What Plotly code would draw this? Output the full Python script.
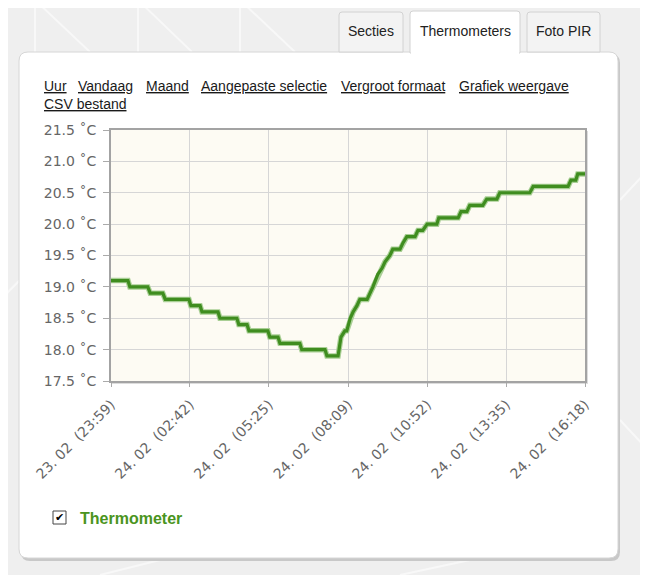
import plotly.graph_objects as go

# ---------------- data ----------------
clock = ["23:59", "00:34", "00:38", "01:15", "01:20", "01:46", "01:51", "02:40", "02:44", "03:03",
         "03:07", "03:40", "03:44", "04:19", "04:23", "04:40", "04:44", "05:23", "05:27", "05:44",
         "05:48", "06:29", "06:33", "07:21", "07:25", "07:48", "07:54", "08:02", "08:06", "08:13",
         "08:19", "08:27", "08:33", "08:48", "08:54", "09:00", "09:10", "09:19", "09:25", "09:35",
         "09:41", "09:56", "10:02", "10:10", "10:27", "10:33", "10:43", "10:52", "11:12", "11:16",
         "11:56", "12:02", "12:14", "12:20", "12:47", "12:55", "13:16", "13:22", "14:24", "14:31",
         "15:43", "15:49", "15:59", "16:03", "16:18"]
temps = [19.1, 19.1, 19.0, 19.0, 18.9, 18.9, 18.8, 18.8, 18.7, 18.7,
         18.6, 18.6, 18.5, 18.5, 18.4, 18.4, 18.3, 18.3, 18.2, 18.2,
         18.1, 18.1, 18.0, 18.0, 17.9, 17.9, 18.2, 18.3, 18.3, 18.5,
         18.6, 18.7, 18.8, 18.8, 18.9, 19.0, 19.2, 19.3, 19.4, 19.5,
         19.6, 19.6, 19.7, 19.8, 19.8, 19.9, 19.9, 20.0, 20.0, 20.1,
         20.1, 20.2, 20.2, 20.3, 20.3, 20.4, 20.4, 20.5, 20.5, 20.6,
         20.6, 20.7, 20.7, 20.8, 20.8]
times = ["2024-02-23 " + clock[0]] + ["2024-02-24 " + c for c in clock[1:]]

x_tick_vals = ["2024-02-23 23:59", "2024-02-24 02:42", "2024-02-24 05:25", "2024-02-24 08:09",
               "2024-02-24 10:52", "2024-02-24 13:35", "2024-02-24 16:18"]
x_tick_text = ["23. 02\u00a0\u00a0(23:59)", "24. 02\u00a0\u00a0(02:42)", "24. 02\u00a0\u00a0(05:25)",
               "24. 02\u00a0\u00a0(08:09)", "24. 02\u00a0\u00a0(10:52)", "24. 02\u00a0\u00a0(13:35)",
               "24. 02\u00a0\u00a0(16:18)"]
y_tick_vals = [17.5, 18.0, 18.5, 19.0, 19.5, 20.0, 20.5, 21.0, 21.5]
y_tick_text = ["17.5 ˚C", "18.0 ˚C", "18.5 ˚C", "19.0 ˚C", "19.5 ˚C", "20.0 ˚C", "20.5 ˚C", "21.0 ˚C", "21.5 ˚C"]

tabs = ["Secties", "Thermometers", "Foto PIR"]
links_row1 = ["Uur", "Vandaag", "Maand", "Aangepaste selectie", "Vergroot formaat", "Grafiek weergave"]
links_row2 = ["CSV bestand"]
series_name = "Thermometer"

# ---------------- layout helpers (screen pixel -> paper) ----------------
SW, SH = 648, 575          # browser window
BODY = 8                   # default page margin around the plot div
PL, PR, PT, PB = 111, 585, 130, 381   # plot area in screen pixels


def px(x):
    return (x - PL) / (PR - PL)


def py(y):
    return (PB - y) / (PB - PT)


def rrect(x0, y0, x1, y1, r, top_only=False):
    rb = 0 if top_only else r
    pts = []
    pts.append(f"M {px(x0 + r)},{py(y0)}")
    pts.append(f"L {px(x1 - r)},{py(y0)}")
    pts.append(f"Q {px(x1)},{py(y0)} {px(x1)},{py(y0 + r)}")
    pts.append(f"L {px(x1)},{py(y1 - rb)}")
    if rb:
        pts.append(f"Q {px(x1)},{py(y1)} {px(x1 - rb)},{py(y1)}")
    pts.append(f"L {px(x0 + rb)},{py(y1)}")
    if rb:
        pts.append(f"Q {px(x0)},{py(y1)} {px(x0)},{py(y1 - rb)}")
    pts.append(f"L {px(x0)},{py(y0 + r)}")
    pts.append(f"Q {px(x0)},{py(y0)} {px(x0 + r)},{py(y0)}")
    pts.append("Z")
    return " ".join(pts)


shapes = []
annotations = []

# faint background decoration (thin light lines)
deco = [(35, 0, 90, 52), (138, 0, 192, 52), (240, 0, 295, 52), (35, 0, 35, 52), (138, 0, 138, 52),
        (240, 0, 240, 52), (0, 300, 20, 280), (620, 200, 648, 170), (620, 420, 648, 450),
        (100, 575, 160, 560), (400, 575, 470, 560)]
for (xa, ya, xb, yb) in deco:
    shapes.append(dict(type="line", xref="paper", yref="paper", x0=px(xa), y0=py(ya), x1=px(xb), y1=py(yb),
                       line=dict(color="#f8f8f8", width=2), layer="below"))

# card shadow + card
shapes.append(dict(type="path", xref="paper", yref="paper", path=rrect(21, 54, 620, 561, 9),
                   fillcolor="#c8c8c8", line=dict(width=0), layer="below"))
shapes.append(dict(type="path", xref="paper", yref="paper", path=rrect(19, 52, 618, 558, 9),
                   fillcolor="#ffffff", line=dict(color="#d6d6d6", width=1), layer="below"))

# tabs
tab_boxes = [(339, 12, 403, 52), (410, 11, 520, 53), (527, 12, 600, 52)]
for i, (name, (x0, y0, x1, y1)) in enumerate(zip(tabs, tab_boxes)):
    active = (i == 1)
    shapes.append(dict(type="path", xref="paper", yref="paper", path=rrect(x0, y0, x1, y1, 3, top_only=True),
                       fillcolor="#ffffff" if active else "#f3f3f3",
                       line=dict(color="#d2d2d2", width=1), layer="below"))
    if active:
        shapes.append(dict(type="rect", xref="paper", yref="paper", x0=px(x0 + 1), x1=px(x1 - 1),
                           y0=py(55), y1=py(50), fillcolor="#ffffff", line=dict(width=0), layer="below"))
    annotations.append(dict(xref="paper", yref="paper", x=px((x0 + x1) / 2), y=py(31), text=name,
                            showarrow=False, xanchor="center", yanchor="middle",
                            font=dict(family="Liberation Sans, Arial", size=14, color="#222222")))

# links
link_x = [42, 76, 144, 199, 339, 457]
for name, x in zip(links_row1, link_x):
    annotations.append(dict(xref="paper", yref="paper", x=px(x), y=py(86), text=f"<u>{name}</u>",
                            showarrow=False, xanchor="left", yanchor="middle",
                            font=dict(family="Liberation Sans, Arial", size=14, color="#1a1a1a")))
for name in links_row2:
    annotations.append(dict(xref="paper", yref="paper", x=px(42), y=py(104), text=f"<u>{name}</u>",
                            showarrow=False, xanchor="left", yanchor="middle",
                            font=dict(family="Liberation Sans, Arial", size=14, color="#1a1a1a")))

# plot frame shadow + cream plot background
shapes.append(dict(type="rect", xref="paper", yref="paper", x0=px(PL + 1), x1=px(PR + 3), y0=py(PB + 3), y1=py(PT + 1),
                   fillcolor="#dcdcdc", line=dict(width=0), layer="below"))
shapes.append(dict(type="rect", xref="paper", yref="paper", x0=0, x1=1, y0=0, y1=1,
                   fillcolor="#fdfbf3", line=dict(width=0), layer="below"))

# legend: checkbox + label
shapes.append(dict(type="rect", xref="paper", yref="paper", x0=px(53), x1=px(66), y0=py(524), y1=py(511),
                   fillcolor="#ffffff", line=dict(color="#444444", width=1), layer="above"))
annotations.append(dict(xref="paper", yref="paper", x=px(59.5), y=py(517.5), text="✔", showarrow=False,
                        xanchor="center", yanchor="middle",
                        font=dict(family="DejaVu Sans", size=11, color="#000000")))
annotations.append(dict(xref="paper", yref="paper", x=px(78), y=py(518), text=f"<b>{series_name}</b>",
                        showarrow=False, xanchor="left", yanchor="middle",
                        font=dict(family="Liberation Sans, Arial", size=16, color="#4a9420")))

fig = go.Figure()
fig.add_trace(go.Scatter(x=times, y=temps, mode="lines", name=series_name,
                         line=dict(color="#a9cf95", width=5.5), hoverinfo="skip", showlegend=False))
fig.add_trace(go.Scatter(x=times, y=temps, mode="lines", name=series_name,
                         line=dict(color="#3f8d1f", width=3.2), showlegend=False))

fig.update_layout(
    width=SW - BODY, height=SH - BODY,
    margin=dict(l=PL - BODY, r=SW - PR, t=PT - BODY, b=SH - PB, pad=0),
    paper_bgcolor="#efefef",
    plot_bgcolor="rgba(0,0,0,0)",
    shapes=shapes,
    annotations=annotations,
    showlegend=False,
    xaxis=dict(type="date", range=[x_tick_vals[0], x_tick_vals[-1]],
               tickmode="array", tickvals=x_tick_vals, ticktext=x_tick_text, tickangle=-45,
               tickfont=dict(family="DejaVu Sans", size=14, color="#666666"),
               ticklabelstandoff=4,
               showgrid=True, gridcolor="#d6d6d6", gridwidth=1,
               showline=True, linecolor="#a3a3a3", linewidth=2, mirror=True,
               ticks="outside", ticklen=4, tickcolor="#aaaaaa", zeroline=False),
    yaxis=dict(range=[17.5, 21.5], tickmode="array", tickvals=y_tick_vals, ticktext=y_tick_text,
               tickfont=dict(family="DejaVu Sans", size=14, color="#666666"),
               ticklabelstandoff=4,
               showgrid=True, gridcolor="#d6d6d6", gridwidth=1,
               showline=True, linecolor="#a3a3a3", linewidth=2, mirror=True,
               ticks="outside", ticklen=6, tickcolor="#aaaaaa", zeroline=False),
)

fig.write_html("out.html")
